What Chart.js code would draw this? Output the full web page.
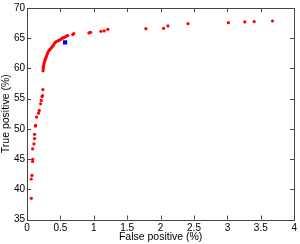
<!DOCTYPE html>
<html>
<head>
<meta charset="utf-8">
<script src="https://cdn.jsdelivr.net/npm/chart.js@4"></script>
<style>
  html, body { margin: 0; padding: 0; background: #fff; }
  #wrap { width: 300px; height: 244px; }
</style>
</head>
<body>
<div id="wrap"><canvas id="roc"></canvas></div>
<script>
// data
const fpRed = [0.064, 0.064, 0.074, 0.084, 0.086, 0.084, 0.104, 0.113, 0.113, 0.124, 0.130,
  0.143, 0.173, 0.183, 0.203, 0.213, 0.225, 0.232, 0.238,
  0.240, 0.242, 0.245, 0.250, 0.255, 0.262, 0.270, 0.280, 0.290, 0.300, 0.310, 0.325,
  0.340, 0.355, 0.370, 0.385, 0.400, 0.415, 0.430, 0.450, 0.470, 0.490, 0.510, 0.530,
  0.550, 0.570, 0.590, 0.610,
  0.685, 0.700, 0.927, 0.952, 1.107, 1.155, 1.210, 1.780, 2.045, 2.110, 2.410, 3.015,
  3.260, 3.400, 3.675];
const tpRed = [38.5, 41.7, 42.3, 44.6, 44.97, 46.7, 47.5, 48.4, 49.1, 50.46, 50.6,
  51.95, 52.6, 53.05, 54.15, 54.7, 55.35, 55.5, 56.5,
  59.6, 59.9, 60.2, 60.5, 60.8, 61.1, 61.4, 61.7, 62.0, 62.3, 62.6, 62.9,
  63.1, 63.3, 63.5, 63.7, 63.9, 64.2, 64.4, 64.5, 64.6, 64.7, 64.85, 65.0,
  65.1, 65.2, 65.35, 65.45,
  65.6, 65.76, 65.87, 65.97, 66.14, 66.2, 66.47, 66.58, 66.64, 67.03, 67.41, 67.57,
  67.69, 67.74, 67.85];
const fpBlue = [0.57];
const tpBlue = [64.33];
const xTicks = [0, 0.5, 1, 1.5, 2, 2.5, 3, 3.5, 4];
const yTicks = [35, 40, 45, 50, 55, 60, 65, 70];

const toPoints = (xs, ys) => xs.map((v, i) => ({ x: v, y: ys[i] }));

// box around the plot with inward tick marks, like matlab
const boxTicks = {
  id: 'boxTicks',
  afterDraw(chart) {
    const { ctx, chartArea: a, scales: { x, y } } = chart;
    const len = 4;
    ctx.save();
    ctx.strokeStyle = '#444';
    ctx.lineWidth = 1;
    ctx.strokeRect(Math.round(a.left) + 0.5, Math.round(a.top) + 0.5,
      Math.round(a.right - a.left), Math.round(a.bottom - a.top));
    ctx.beginPath();
    xTicks.forEach(v => {
      const px = Math.round(x.getPixelForValue(v)) + 0.5;
      ctx.moveTo(px, a.bottom); ctx.lineTo(px, a.bottom - len);
      ctx.moveTo(px, a.top); ctx.lineTo(px, a.top + len);
    });
    yTicks.forEach(v => {
      const py = Math.round(y.getPixelForValue(v)) + 0.5;
      ctx.moveTo(a.left, py); ctx.lineTo(a.left + len, py);
      ctx.moveTo(a.right, py); ctx.lineTo(a.right - len, py);
    });
    ctx.stroke();
    ctx.restore();
  }
};

Chart.defaults.font.family = '"Liberation Sans", Arial, sans-serif';
Chart.defaults.font.size = 10;
Chart.defaults.color = '#000';

new Chart(document.getElementById('roc'), {
  type: 'scatter',
  data: {
    datasets: [{
      label: 'red',
      data: toPoints(fpRed, tpRed),
      backgroundColor: '#ff0000',
      borderWidth: 0,
      pointRadius: 1.6
    }, {
      label: 'blue',
      data: toPoints(fpBlue, tpBlue),
      backgroundColor: '#0000ff',
      borderWidth: 0,
      pointStyle: 'rect',
      pointRadius: 3
    }]
  },
  options: {
    responsive: true,
    maintainAspectRatio: false,
    animation: false,
    layout: { padding: { top: 7, right: 4, left: 0, bottom: 0 } },
    plugins: { legend: { display: false }, tooltip: { enabled: false } },
    scales: {
      x: {
        type: 'linear',
        min: 0, max: 4,
        afterBuildTicks: s => { s.ticks = xTicks.map(v => ({ value: v })); },
        afterFit: s => { s.height = 24.5; },
        grid: { display: false, drawTicks: false },
        border: { display: false },
        ticks: { padding: 3, maxRotation: 0, autoSkip: false, callback: v => String(v) },
        title: { display: true, text: 'False positive (%)', padding: { top: 0, bottom: 1 }, font: { size: 10.5 } }
      },
      y: {
        type: 'linear',
        min: 35, max: 70,
        afterBuildTicks: s => { s.ticks = yTicks.map(v => ({ value: v })); },
        afterFit: s => { s.width = 27; },
        grid: { display: false, drawTicks: false },
        border: { display: false },
        ticks: { padding: 2, autoSkip: false, callback: v => String(v) },
        title: { display: true, text: 'True positive (%)', padding: { top: 0, bottom: 0 }, font: { size: 10.5 } }
      }
    }
  },
  plugins: [boxTicks]
});
</script>
</body>
</html>
